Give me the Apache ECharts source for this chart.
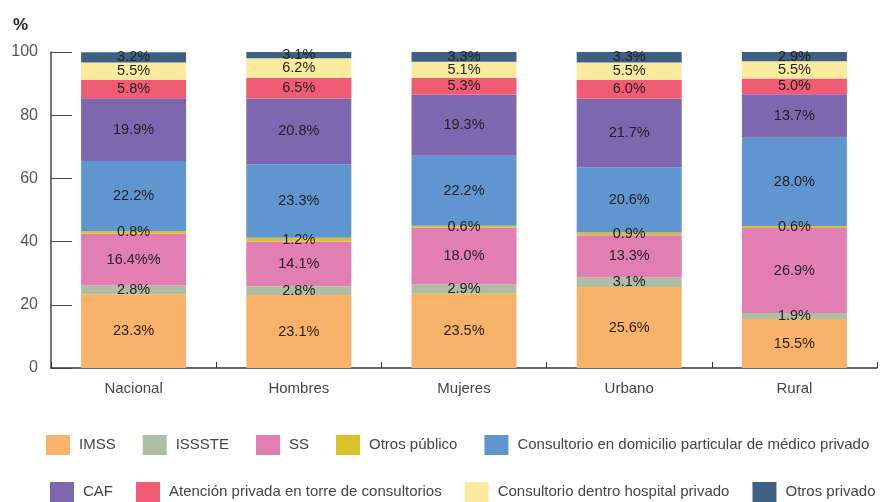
<!DOCTYPE html>
<html>
<head>
<meta charset="utf-8">
<script src="https://cdn.jsdelivr.net/npm/echarts@6/dist/echarts.min.js"></script>
<style>
  html, body { margin: 0; padding: 0; background: #fff; }
  #chart { width: 886px; height: 502px; }
</style>
</head>
<body>
<div id="chart"></div>
<script>
// categorías del eje x
const categories = ['Nacional', 'Hombres', 'Mujeres', 'Urbano', 'Rural'];
const yTicks = [0, 20, 40, 60, 80, 100];

// valores por tipo de atención (%)
const imss = [23.3, 23.1, 23.5, 25.6, 15.5];
const issste = [2.8, 2.8, 2.9, 3.1, 1.9];
const ss = [16.4, 14.1, 18.0, 13.3, 26.9];
const otrosPublico = [0.8, 1.2, 0.6, 0.9, 0.6];
const consultorioDomicilio = [22.2, 23.3, 22.2, 20.6, 28.0];
const caf = [19.9, 20.8, 19.3, 21.7, 13.7];
const torreConsultorios = [5.8, 6.5, 5.3, 6.0, 5.0];
const hospitalPrivado = [5.5, 6.2, 5.1, 5.5, 5.5];
const otrosPrivado = [3.2, 3.1, 3.3, 3.3, 2.9];

const seriesDefs = [
  { name: 'IMSS', data: imss, color: '#f9b26a' },
  { name: 'ISSSTE', data: issste, color: '#adbea3' },
  { name: 'SS', data: ss, color: '#e27fb2' },
  { name: 'Otros público', data: otrosPublico, color: '#d9c12c' },
  { name: 'Consultorio en domicilio particular de médico privado', data: consultorioDomicilio, color: '#6096cf' },
  { name: 'CAF', data: caf, color: '#7e67ae' },
  { name: 'Atención privada en torre de consultorios', data: torreConsultorios, color: '#f05c73' },
  { name: 'Consultorio dentro hospital privado', data: hospitalPrivado, color: '#fbeb9e' },
  { name: 'Otros privado', data: otrosPrivado, color: '#3e6083' }
];

const FONT = "'Liberation Sans', Arial, sans-serif";

const chart = echarts.init(document.getElementById('chart'));

// leyenda en dos filas, como en la figura original
const legendBase = {
  orient: 'horizontal',
  width: 880,
  itemWidth: 24,
  itemHeight: 20,
  icon: 'rect',
  textStyle: { fontFamily: FONT, fontSize: 15, color: '#444', padding: [0, 0, 0, 4] }
};

chart.setOption({
  animation: false,
  backgroundColor: '#fff',
  grid: { left: 51, right: 9, top: 52, bottom: 134 },
  legend: [
    Object.assign({}, legendBase, {
      left: 41, top: 430, itemGap: 27,
      data: seriesDefs.slice(0, 5).map(s => s.name)
    }),
    Object.assign({}, legendBase, {
      left: 45, top: 477, itemGap: 23,
      data: seriesDefs.slice(5).map(s => s.name)
    })
  ],
  xAxis: {
    type: 'category',
    data: categories,
    axisLine: { lineStyle: { color: '#333', width: 1.5 } },
    axisTick: { show: true, inside: true, length: 6, lineStyle: { color: '#333' } },
    axisLabel: { fontFamily: FONT, fontSize: 15, color: '#444', margin: 13 }
  },
  yAxis: {
    type: 'value',
    min: yTicks[0],
    max: yTicks[yTicks.length - 1],
    interval: 20,
    name: '%',
    nameLocation: 'end',
    nameGap: 27,
    nameTextStyle: {
      fontFamily: FONT, fontSize: 17, fontWeight: 'bold', color: '#222',
      align: 'right', verticalAlign: 'middle', padding: [0, 23, 0, 0]
    },
    axisLine: { show: true, lineStyle: { color: '#444', width: 1.5 } },
    axisTick: { show: true, inside: true, length: 21, lineStyle: { color: '#444' } },
    splitLine: { show: false },
    axisLabel: { fontFamily: FONT, fontSize: 16, color: '#555', margin: 13 }
  },
  series: seriesDefs.map(s => ({
    name: s.name,
    type: 'bar',
    stack: 'total',
    barWidth: 105,
    itemStyle: { color: s.color },
    label: {
      show: true,
      position: 'inside',
      fontFamily: FONT,
      fontSize: 14.5,
      color: '#231f20',
      formatter: p => (s.name === 'SS' && p.dataIndex === 0)
        ? p.value.toFixed(1) + '%%'
        : p.value.toFixed(1) + '%'
    },
    data: s.data
  }))
});
</script>
</body>
</html>
